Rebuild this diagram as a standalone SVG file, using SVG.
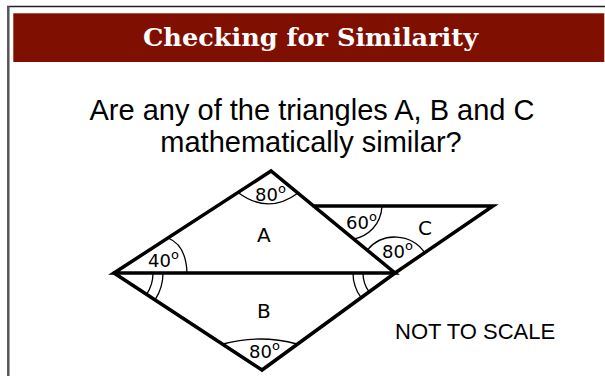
<svg xmlns="http://www.w3.org/2000/svg" width="605" height="376" viewBox="0 0 605 376">
<style>
.edge{fill:none;stroke:#000;stroke-width:3.5;stroke-linejoin:miter;stroke-linecap:round}
.arc{fill:none;stroke:#000;stroke-width:1.3}
.lbl{font-family:"DejaVu Sans",sans-serif;font-size:20px;fill:#000}
.ang{font-family:"DejaVu Sans",sans-serif;font-size:18px;fill:#000}
.deg{font-size:13px}
.q{font-family:"Liberation Sans",Arial,sans-serif;font-size:29px;fill:#000;text-anchor:middle}
</style>
<rect width="605" height="376" fill="#fff"/>
<g id="frame">
<line x1="7" y1="6.5" x2="605" y2="6.5" stroke="#222" stroke-width="1.5"/>
<line x1="8.3" y1="6" x2="8.3" y2="376" stroke="#555" stroke-width="2.5"/>
</g>
<g id="banner">
<rect x="13.3" y="13.3" width="591" height="48.7" fill="#7f0f00"/>
<text x="310.5" y="46" text-anchor="middle" font-family="'DejaVu Serif',serif" font-weight="bold" font-size="24" fill="#fff" textLength="335" lengthAdjust="spacingAndGlyphs">Checking for Similarity</text>
</g>
<g id="question">
<text class="q" x="312" y="120">Are any of the triangles A, B and C</text>
<text class="q" x="311" y="152">mathematically similar?</text>
</g>
<g id="connectors">
</g>
<g id="triangleA">
<path class="edge" d="M114,273 L271,171 L395,273 Z"/>
<path class="arc" d="M238,192.5 Q268.5,215 298,193"/>
<path class="arc" d="M168,238 Q186,245 187,273"/>
<text class="ang" x="255" y="200.7">80<tspan class="deg" dy="-8">o</tspan></text>
<text class="ang" x="148" y="266.7">40<tspan class="deg" dy="-8">o</tspan></text>
<text class="lbl" x="257" y="242">A</text>
</g>
<g id="triangleB">
<path class="edge" d="M114,273 L262,370 L395,273"/>
<path class="arc" d="M153,273 A39,39 0 0,1 146.6,294.4"/>
<path class="arc" d="M163,273 A49,49 0 0,1 155,299.9"/>
<path class="arc" d="M353,273 A42,42 0 0,0 361.1,297.7"/>
<path class="arc" d="M363,273 A32,32 0 0,0 369.1,291.9"/>
<path class="arc" d="M223,344 Q260,334 297,344"/>
<text class="ang" x="249" y="358">80<tspan class="deg" dy="-8">o</tspan></text>
<text class="lbl" x="257" y="318">B</text>
</g>
<g id="triangleC">
<path class="edge" d="M314,206 L493,206 L395,273"/>
<path class="arc" d="M382,206 C381,225 368,236 354,239"/>
<path class="arc" d="M367.2,250.1 A36,36 0 0,1 424.7,252.7"/>
<text class="ang" x="346" y="229">60<tspan class="deg" dy="-8">o</tspan></text>
<text class="ang" x="382" y="258">80<tspan class="deg" dy="-8">o</tspan></text>
<text class="lbl" x="418" y="235">C</text>
</g>
<g id="note">
<text x="395" y="339" font-family="'Liberation Sans',Arial,sans-serif" font-size="22" fill="#000">NOT TO SCALE</text>
</g>
</svg>
